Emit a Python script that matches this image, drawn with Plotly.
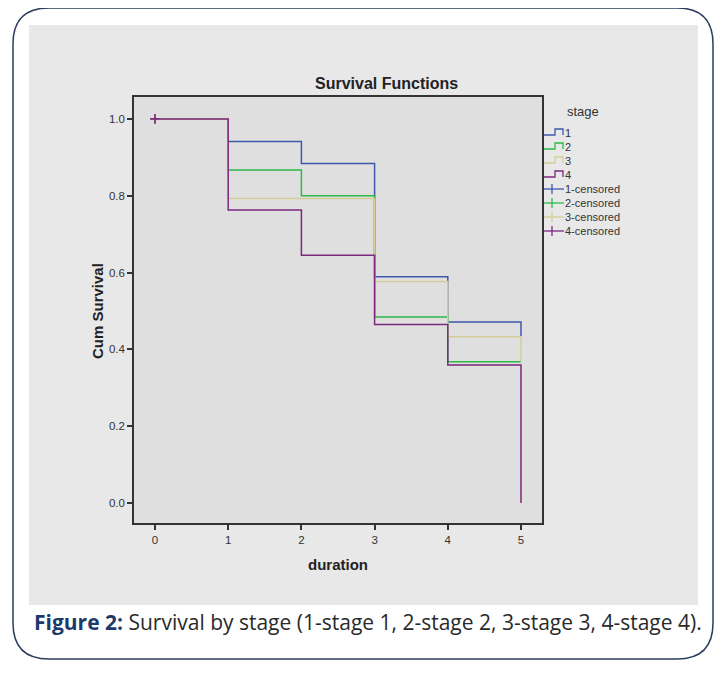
import plotly.graph_objects as go

# ---------------- data ----------------
durations = [0, 1, 2, 3, 4, 5]
stage1 = [1.0, 0.941, 0.884, 0.589, 0.471, 0.435]
stage2 = [1.0, 0.867, 0.800, 0.484, 0.368, 0.368]
stage3 = [1.0, 0.793, 0.793, 0.577, 0.433, 0.368]
stage4 = [1.0, 0.763, 0.645, 0.465, 0.359, 0.0]
censored_x = [0]
censored_y = [1.0]
stage_names = ["1", "2", "3", "4"]
censored_names = ["1-censored", "2-censored", "3-censored", "4-censored"]
x_ticks = [0, 1, 2, 3, 4, 5]
y_ticks = [0.0, 0.2, 0.4, 0.6, 0.8, 1.0]

colors = ["#3e58ac", "#2eb848", "#d3ce97", "#7c287d"]

# ---------------- geometry (page pixels) ----------------
OFF = 8  # default body margin of the html page
W_FIG, H_FIG = 723 - OFF, 678 - OFF
L, R, T, B = 134, 542, 97, 523
PW, PH = R - L, B - T


def px(x):
    return (x - L) / PW


def py(y):
    return (B - y) / PH


fig = go.Figure()

for name, ys, c in zip(stage_names, [stage1, stage2, stage3, stage4], colors):
    fig.add_trace(go.Scatter(x=durations, y=ys, mode="lines", line=dict(color=c, width=1.5, shape="hv"),
                             name=name, showlegend=False, hoverinfo="skip"))

for name, c in zip(censored_names, colors):
    fig.add_trace(go.Scatter(x=censored_x, y=censored_y, mode="markers",
                             marker=dict(symbol="cross-thin", size=7, line=dict(color=c, width=1.6)),
                             name=name, showlegend=False, hoverinfo="skip"))

shapes = []
# gray panel
shapes.append(dict(type="rect", xref="paper", yref="paper", x0=px(29), x1=px(698), y0=py(25), y1=py(605),
                   fillcolor="#e8e8e8", line=dict(width=0), layer="below"))
# plot area background
shapes.append(dict(type="rect", xref="paper", yref="paper", x0=0, x1=1, y0=0, y1=1,
                   fillcolor="#dfdfdf", line=dict(width=0), layer="below"))
# outer rounded border
x0, x1, y0, y1, r = 13, 713, 8, 659, 36
path = (f"M {px(x0)},{py(y0 + r)} Q {px(x0)},{py(y0)} {px(x0 + r)},{py(y0)} "
        f"L {px(x1 - r)},{py(y0)} Q {px(x1)},{py(y0)} {px(x1)},{py(y0 + r)} "
        f"L {px(x1)},{py(y1 - r)} Q {px(x1)},{py(y1)} {px(x1 - r)},{py(y1)} "
        f"L {px(x0 + r)},{py(y1)} Q {px(x0)},{py(y1)} {px(x0)},{py(y1 - r)} Z")
shapes.append(dict(type="path", xref="paper", yref="paper", path=path,
                   line=dict(color="#2c3d5e", width=1.5), fillcolor="rgba(0,0,0,0)", layer="above"))

annotations = []
# legend
annotations.append(dict(text="stage", x=px(565), y=py(111), xref="paper", yref="paper",
                        xanchor="left", yanchor="middle", showarrow=False,
                        font=dict(family="Liberation Sans, Arial", size=13, color="#333")))
item_ys = [133, 147, 161, 175, 189, 203, 217, 231]
labels = stage_names + censored_names
for i, (lab, yy) in enumerate(zip(labels, item_ys)):
    c = colors[i % 4]
    annotations.append(dict(text=lab, x=px(563), y=py(yy), xref="paper", yref="paper",
                            xanchor="left", yanchor="middle", showarrow=False,
                            font=dict(family="Liberation Sans, Arial", size=11, color="#333")))
    if i < 4:
        p = (f"M {px(544)},{py(yy + 2)} L {px(555)},{py(yy + 2)} L {px(555)},{py(yy - 4)} "
             f"L {px(563)},{py(yy - 4)} L {px(563)},{py(yy + 2)}")
        shapes.append(dict(type="path", xref="paper", yref="paper", path=p,
                           line=dict(color=c, width=1.3)))
    else:
        shapes.append(dict(type="line", xref="paper", yref="paper", x0=px(544), x1=px(564),
                           y0=py(yy), y1=py(yy), line=dict(color=c, width=1.3)))
        shapes.append(dict(type="line", xref="paper", yref="paper", x0=px(552), x1=px(552),
                           y0=py(yy - 5), y1=py(yy + 5), line=dict(color=c, width=1.3)))

# title
annotations.append(dict(text="<b>Survival Functions</b>", x=px(386), y=py(84), xref="paper", yref="paper",
                        xanchor="center", yanchor="middle", showarrow=False,
                        font=dict(family="Liberation Sans, Arial", size=16, color="#222")))
# axis titles
annotations.append(dict(text="<b>duration</b>", x=px(338), y=py(564), xref="paper", yref="paper",
                        xanchor="center", yanchor="middle", showarrow=False,
                        font=dict(family="Liberation Sans, Arial", size=15, color="#222")))
annotations.append(dict(text="<b>Cum Survival</b>", x=px(97), y=py(311), xref="paper", yref="paper",
                        xanchor="center", yanchor="middle", showarrow=False, textangle=-90,
                        font=dict(family="Liberation Sans, Arial", size=15, color="#222")))
# caption
annotations.append(dict(
    text="<b><span style='color:#1d3a6b'>Figure 2:</span></b> Survival by stage (1-stage 1, 2-stage 2, 3-stage 3, 4-stage 4).",
    x=px(32), y=py(622), xref="paper", yref="paper", xanchor="left", yanchor="middle", showarrow=False,
    font=dict(family="Open Sans", size=21, color="#2a2a2a")))

axis_common = dict(showline=True, mirror=True, linecolor="#333", linewidth=1.5, ticks="outside",
                   ticklen=5, tickwidth=1.5, tickcolor="#333", showgrid=False, zeroline=False,
                   tickfont=dict(family="Liberation Sans, Arial", size=11.5, color="#333"))

fig.update_layout(
    width=W_FIG, height=H_FIG,
    margin=dict(l=L - OFF, r=723 - R, t=T - OFF, b=678 - B, pad=0),
    paper_bgcolor="white", plot_bgcolor="rgba(0,0,0,0)",
    showlegend=False,
    shapes=shapes, annotations=annotations,
    xaxis=dict(range=[-0.287, 5.287], tickvals=x_ticks, ticktext=[str(v) for v in x_ticks], **axis_common),
    yaxis=dict(range=[-0.052, 1.057], tickvals=y_ticks, tickformat=".1f", **axis_common),
)

fig.write_html("out.html")
